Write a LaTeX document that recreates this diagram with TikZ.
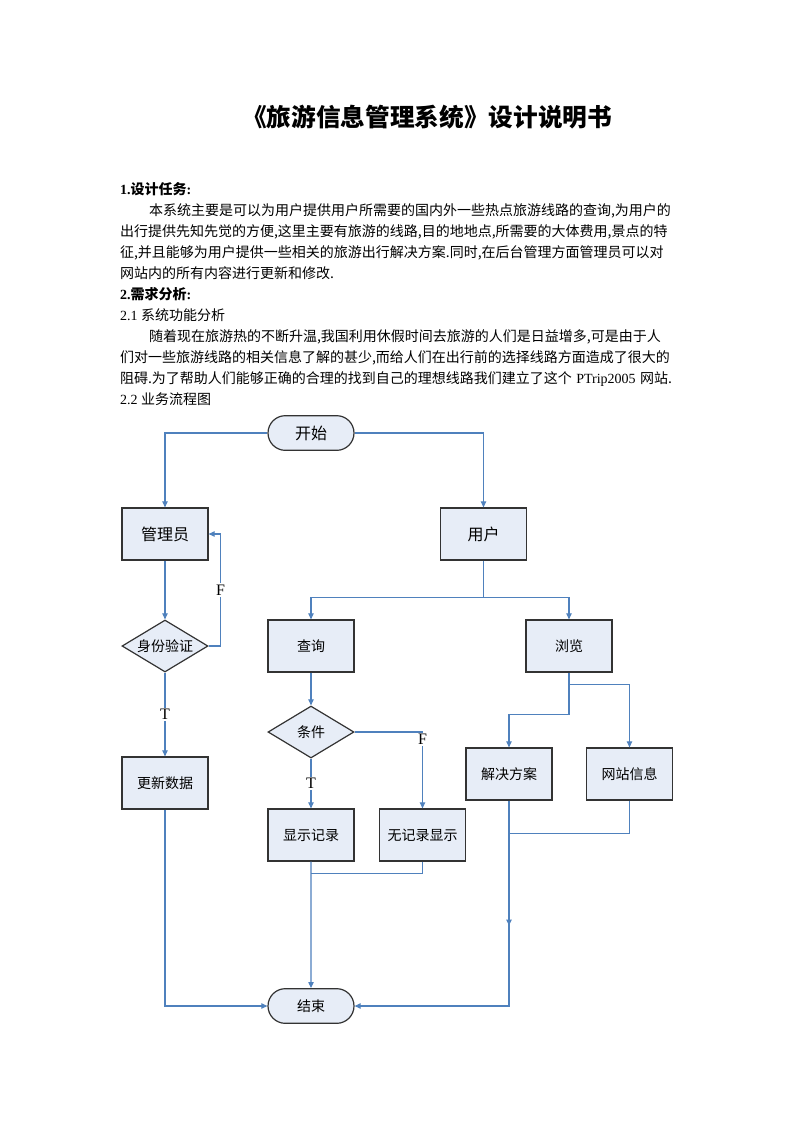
\documentclass[tikz,border=0pt]{standalone}
\usepackage{fontspec}
\setmainfont{Liberation Serif}
\newfontfamily\cjk{Noto Sans CJK SC}
\usetikzlibrary{shapes.misc,shapes.geometric,arrows.meta,calc}
\definecolor{lineblue}{HTML}{4F81BD}
\definecolor{boxfill}{HTML}{E7EDF7}
\XeTeXlinebreaklocale "zh"
\XeTeXlinebreakskip=0pt plus 4pt
\newcommand{\jline}[2]{\makebox[#1][s]{#2}}
\begin{document}
\begin{tikzpicture}[x=0.75pt,y=-0.75pt,
  txt/.style={inner sep=0pt, outer sep=0pt, anchor=base west, font=\cjk\fontsize{10.5pt}{12pt}\selectfont},
  nbox/.style={rectangle, draw=black!80, line width=0.9pt, fill=boxfill, minimum width=64.5pt, minimum height=39pt, inner sep=0pt, font=\cjk\fontsize{10.5pt}{12pt}\selectfont},
  bigbox/.style={nbox, font=\cjk\fontsize{12pt}{12pt}\selectfont},
  term/.style={rounded rectangle, draw=black!80, line width=0.9pt, fill=boxfill, minimum width=64.5pt, minimum height=26pt, inner sep=0pt},
  dec/.style={diamond, aspect=1.65, draw=black!80, line width=0.9pt, fill=boxfill, minimum width=64.5pt, minimum height=39pt, inner sep=0pt, font=\cjk\fontsize{10.5pt}{12pt}\selectfont},
  conn/.style={draw=lineblue, line width=0.8pt},
  arr/.style={conn, -{Triangle[length=4.5pt,width=4pt]}},
  lab/.style={fill=white, inner sep=1pt, text=black, font=\fontsize{12pt}{12pt}\selectfont}
]
\useasboundingbox (0,0) rectangle (793,1122);
\fill[white] (0,0) rectangle (793,1122);

% title
\node[inner sep=0pt, font=\cjk\bfseries\fontsize{18.5pt}{20pt}\selectfont] (title) at (427,117) {《旅游信息管理系统》设计说明书};

% body text
\node[txt] (t1) at (120,194) {\bfseries\rmfamily 1.{\cjk 设计任务}:};
\node[txt] (t2) at (149,215) {\jline{392.25pt}{本系统主要是可以为用户提供用户所需要的国内外一些热点旅游线路的查询,为用户的}};
\node[txt] (t3) at (120,236) {\jline{414pt}{出行提供先知先觉的方便,这里主要有旅游的线路,目的地地点,所需要的大体费用,景点的特}};
\node[txt] (t4) at (120,257) {\jline{414pt}{征,并且能够为用户提供一些相关的旅游出行解决方案.同时,在后台管理方面管理员可以对}};
\node[txt] (t5) at (120,278) {网站内的所有内容进行更新和修改.};
\node[txt] (t6) at (120,299) {\bfseries\rmfamily 2.{\cjk 需求分析}:};
\node[txt] (t7) at (120,320) {{\rmfamily 2.1 }系统功能分析};
\node[txt] (t8) at (149,341) {\jline{392.25pt}{随着现在旅游热的不断升温,我国利用休假时间去旅游的人们是日益增多,可是由于人}};
\node[txt] (t9) at (120,362) {\jline{414pt}{们对一些旅游线路的相关信息了解的甚少,而给人们在出行前的选择线路方面造成了很大的}};
\node[txt] (t10) at (120,383) {\jline{414pt}{阻碍.为了帮助人们能够正确的合理的找到自己的理想线路我们建立了这个{\rmfamily\ PTrip2005 }网站.}};
\node[txt] (t11) at (120,404) {{\rmfamily 2.2 }业务流程图};

% flowchart nodes
\node[term, font=\cjk\fontsize{12pt}{12pt}\selectfont] (start) at (311,433) {开始};
\node[bigbox] (admin) at (165,534) {管理员};
\node[bigbox] (user) at (483.5,534) {用户};
\node[dec] (auth) at (165,646) {身份验证};
\node[nbox] (query) at (311,646) {查询};
\node[nbox] (browse) at (569,646) {浏览};
\node[dec] (cond) at (311,732) {条件};
\node[nbox] (update) at (165,783) {更新数据};
\node[nbox] (plan) at (509,774) {解决方案};
\node[nbox] (info) at (629.5,774) {网站信息};
\node[nbox] (show) at (311,835) {显示记录};
\node[nbox] (norec) at (422.5,835) {无记录显示};
\node[term, font=\cjk\fontsize{10.5pt}{12pt}\selectfont] (end) at (311,1006) {结束};

% connectors
\draw[arr] (start.west) -| (admin.north);
\draw[arr] (start.east) -| (user.north);
\draw[arr] (admin) -- (auth);
\draw[arr] (auth.east) -- ++(12,0) |- node[lab, pos=0.25] (fl) {F} (admin.east);
\draw[arr] (auth) -- node[lab] (tl) {T} (update);

\coordinate (ub) at ($(user.south)+(0,37)$);
\draw[conn] (user.south) -- (ub);
\draw[arr] (ub) -| (query.north);
\draw[arr] (ub) -| (browse.north);

\draw[arr] (query) -- (cond);
\draw[arr] (cond.east) -| node[lab, pos=0.5, anchor=north] (fm) {F} (norec.north);
\draw[arr] (cond) -- node[lab] (tm) {T} (show);

\coordinate (bb1) at ($(browse.south)+(0,12)$);
\coordinate (bb2) at ($(browse.south)+(0,42)$);
\draw[conn] (browse.south) -- (bb2);
\draw[arr] (bb2) -| (plan.north);
\draw[arr] (bb1) -| (info.north);

\coordinate (pmid) at ($(plan.south)+(0,125)$);
\draw[arr] (plan.south) |- (end.east);
\draw[arr] (plan.south) -- (pmid);
\coordinate (im) at ($(info.south)+(0,33)$);
\draw[conn] (info.south) -- (im) -- (im -| plan.south);

\draw[arr] (show) -- (end);
\coordinate (nm) at ($(norec.south)+(0,12)$);
\draw[conn] (norec.south) -- (nm) -- (nm -| show.south);

\draw[arr] (update.south) |- (end.west);
\end{tikzpicture}
\end{document}
